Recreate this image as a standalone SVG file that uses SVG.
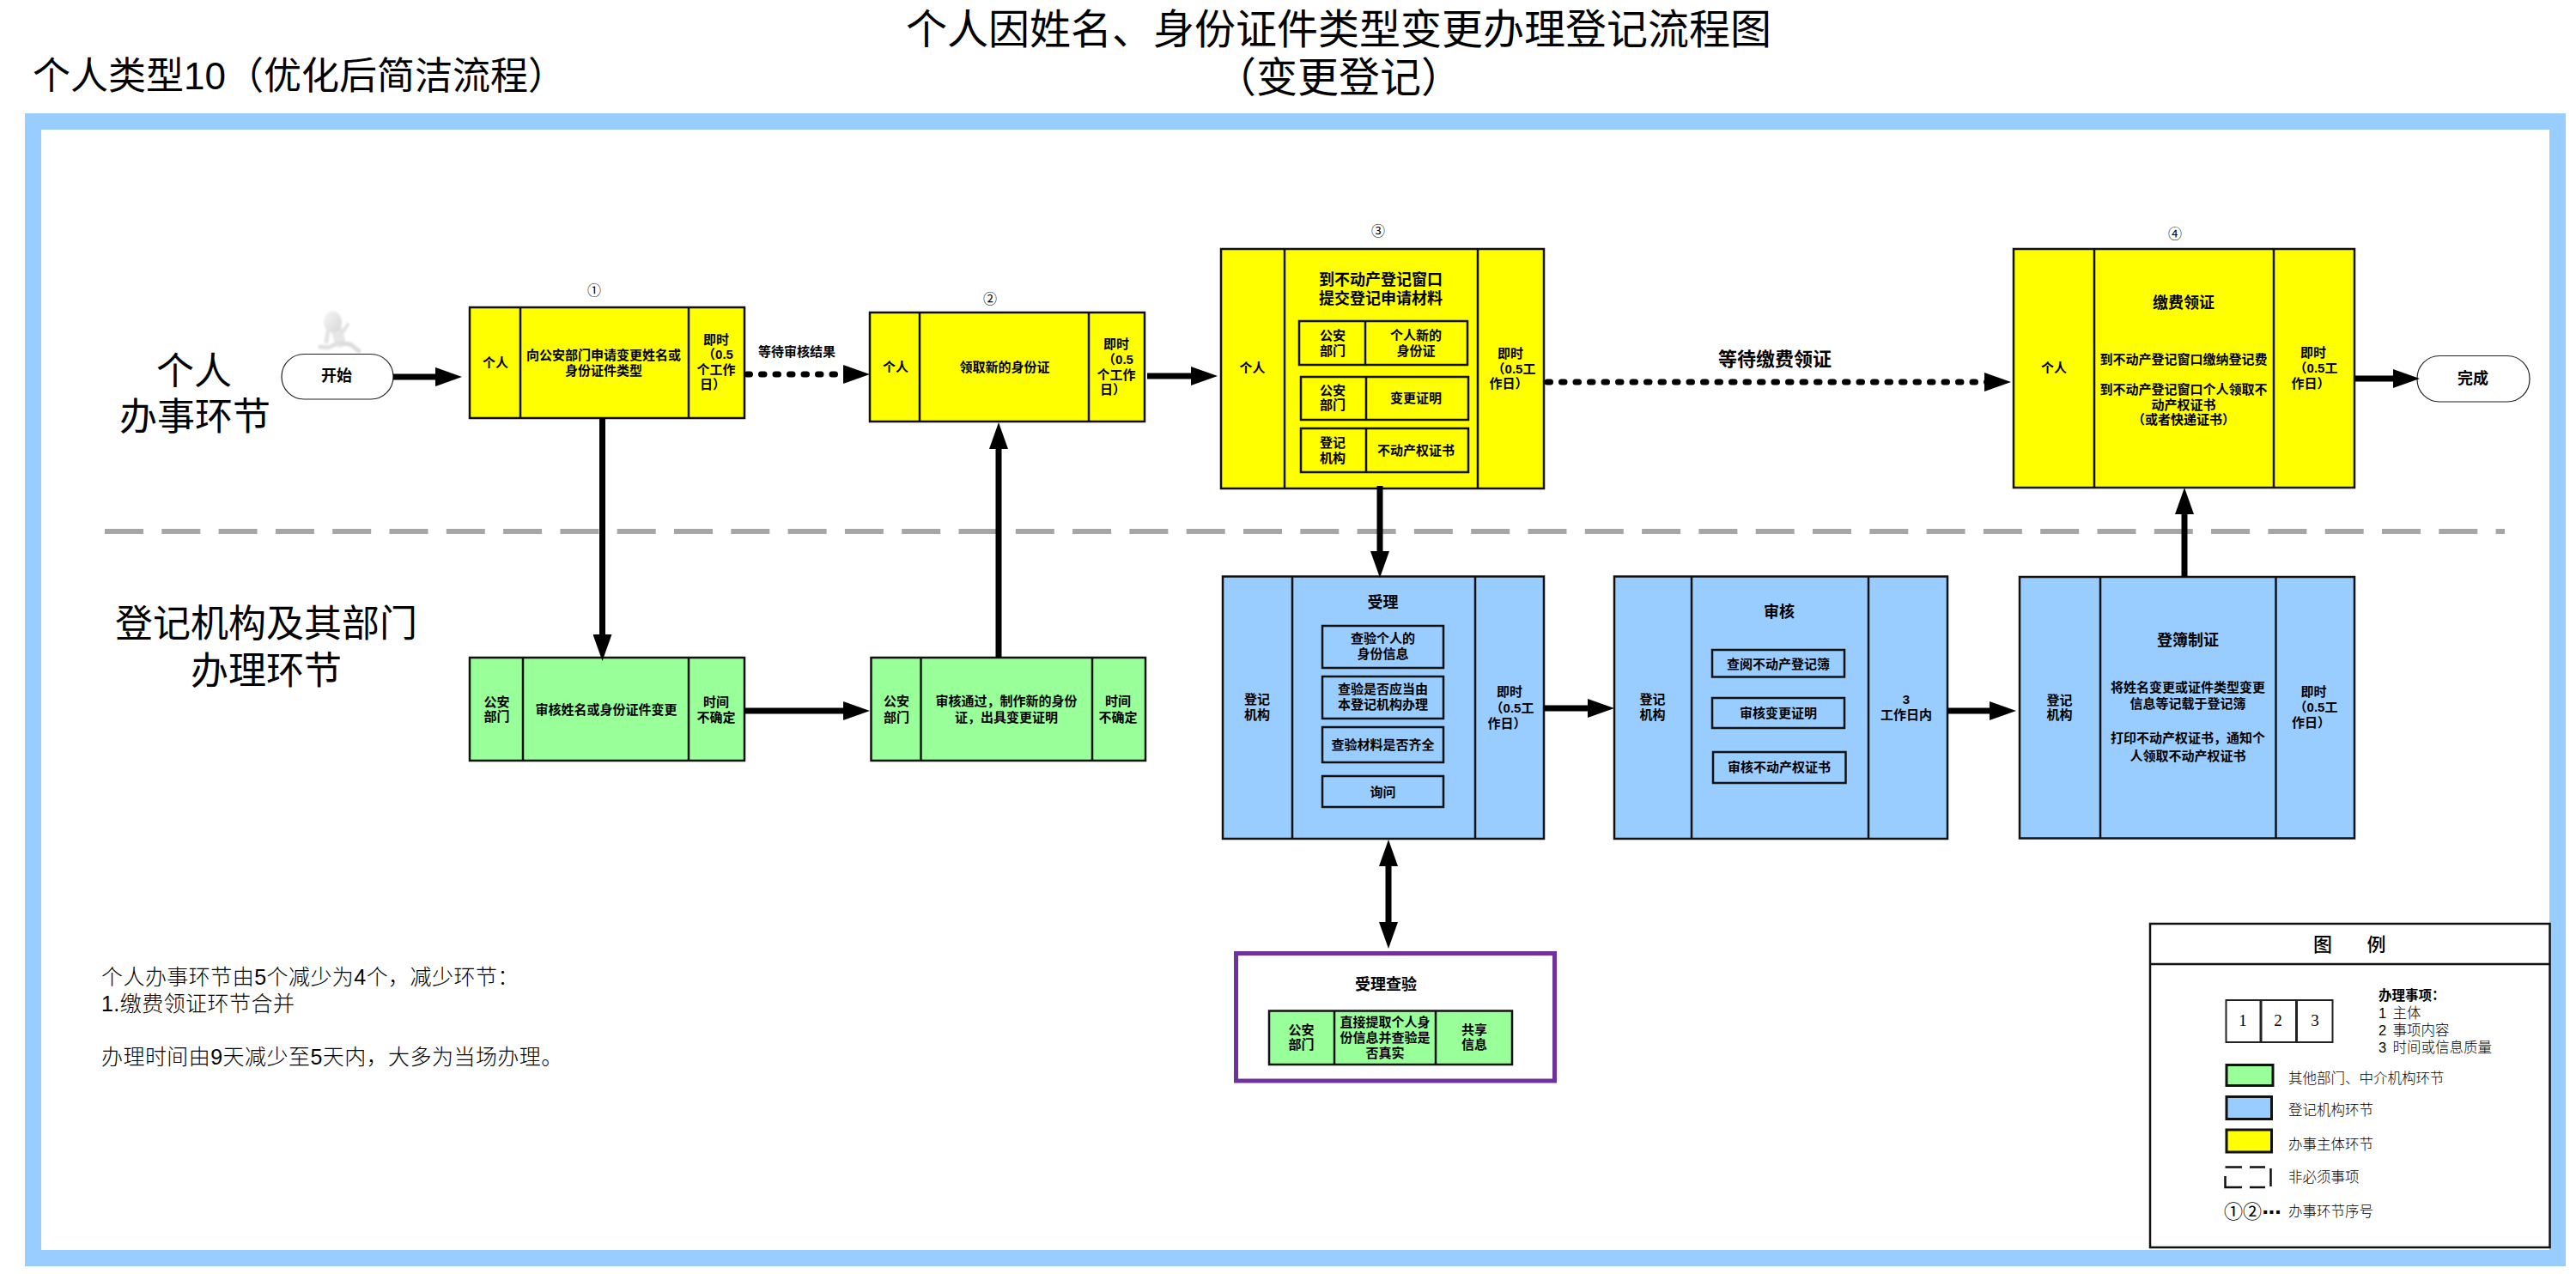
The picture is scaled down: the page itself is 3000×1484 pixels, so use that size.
<svg xmlns="http://www.w3.org/2000/svg" width="3000" height="1484" viewBox="0 0 3000 1484">
<style>
text{font-family:"Liberation Sans","Noto Sans CJK SC",sans-serif;fill:#000}
.c{text-anchor:middle}
.s{font-size:15px;font-weight:700;text-anchor:middle}
.h{font-size:18px;font-weight:700;text-anchor:middle}
.n{font-size:16px;text-anchor:middle;font-family:"Noto Sans CJK SC",sans-serif}
.big{font-size:44px;text-anchor:middle}
.title{font-size:48px;text-anchor:middle}
.note{font-size:25px;font-weight:300;letter-spacing:.45px}
.leg{font-size:16.5px;font-weight:300}
.y{fill:#ffff00}.b{fill:#99ccff}.g{fill:#99ff99}
.box{stroke:#111;stroke-width:2.5}
.in{fill:none;stroke:#111;stroke-width:2.5}
.div{stroke:#111;stroke-width:2.5;fill:none}
.a{fill:none;stroke:#000;stroke-width:7}
.ad{fill:none;stroke:#000;stroke-width:7;stroke-linecap:round;stroke-dasharray:3.5 13}
.serif{font-family:"Liberation Serif",serif;font-size:19px;text-anchor:middle}
</style>
<defs>
<marker id="arrow" markerUnits="userSpaceOnUse" markerWidth="31" markerHeight="22" viewBox="0 0 31 22" refX="16" refY="11" orient="auto-start-reverse"><path d="M0 0L31 11L0 22Z" fill="#000"/></marker>
<linearGradient id="man" x1="0" y1="0" x2="1" y2="1"><stop offset="0" stop-color="#f6f6f6"/><stop offset="1" stop-color="#d6d6d6"/></linearGradient>
<filter id="soft" x="-20%" y="-20%" width="140%" height="140%"><feGaussianBlur stdDeviation="0.8"/></filter>
</defs>
<rect width="3000" height="1484" fill="#fff"/>
<g id="titles">
<text class="title" x="1559" y="51">个人因姓名、身份证件类型变更办理登记流程图</text>
<text class="title" x="1559" y="107">（变更登记）</text>
<text x="38" y="104" font-size="44">个人类型10（优化后简洁流程）</text>
</g>
<rect id="frame" x="38.5" y="141.5" width="2940" height="1324" fill="none" stroke="#99ccff" stroke-width="19"/>
<line id="lane-divider" x1="122" y1="619" x2="2917" y2="619" stroke="#a6a6a6" stroke-width="6" stroke-dasharray="45 21.3"/>
<g id="lane-labels">
<text class="big" x="226" y="448">个人</text>
<text class="big" x="227" y="501">办事环节</text>
<text class="big" x="310" y="742">登记机构及其部门</text>
<text class="big" x="310" y="797">办理环节</text>
</g>
<g id="notes">
<text class="note" x="118" y="1147">个人办事环节由5个减少为4个，减少环节：</text>
<text class="note" x="118" y="1178">1.缴费领证环节合并</text>
<text class="note" x="118" y="1240">办理时间由9天减少至5天内，大多为当场办理。</text>
</g>
<g id="runner" fill="none" stroke-linecap="round" stroke-linejoin="round" filter="url(#soft)">
<path d="M392 384L396 398" stroke="#e6e6e6" stroke-width="13"/>
<path d="M394 384L400 386L405 378" stroke="#e2e2e2" stroke-width="4"/>
<path d="M382 386L380 398" stroke="#e4e4e4" stroke-width="5"/>
<path d="M393 400L382 405L373 404" stroke="#e0e0e0" stroke-width="5"/>
<path d="M398 400L408 401L418 409" stroke="#dcdcdc" stroke-width="5"/>
<ellipse cx="387.5" cy="375" rx="10.5" ry="12.5" fill="url(#man)"/>
</g>
<g id="start">
<rect x="328" y="412.5" width="130" height="52.5" rx="26" ry="26" fill="#fff" stroke="#222" stroke-width="1.2"/>
<text class="h" x="392" y="444">开始</text>
</g>
<g id="step1">
<rect class="box y" x="547" y="358" width="320" height="129"/>
<path class="div" d="M606 358V487M802 358V487"/>
<text class="s" x="577" y="427.5">个人</text>
<text class="s" x="703" y="419">向公安部门申请变更姓名或</text>
<text class="s" x="703" y="436.5">身份证件类型</text>
<text class="s" x="834" y="400.5">即时</text>
<text class="s" x="836" y="418">（0.5</text>
<text class="s" x="834" y="436">个工作</text>
<text class="s" x="830" y="453">日）</text>
<text class="n" x="692" y="344">①</text>
</g>
<g id="step2">
<rect class="box y" x="1013" y="364" width="320" height="127"/>
<path class="div" d="M1071 364V491M1268 364V491"/>
<text class="s" x="1043" y="433">个人</text>
<text class="s" x="1170" y="432.5">领取新的身份证</text>
<text class="s" x="1300" y="406">即时</text>
<text class="s" x="1302" y="423.5">（0.5</text>
<text class="s" x="1300" y="441.5">个工作</text>
<text class="s" x="1296" y="459">日）</text>
<text class="n" x="1153" y="354">②</text>
</g>
<g id="step3">
<rect class="box y" x="1422" y="290" width="376" height="279"/>
<path class="div" d="M1496 290V569M1721 290V569"/>
<text class="s" x="1458.5" y="434">个人</text>
<text class="h" x="1608" y="331.5">到不动产登记窗口</text>
<text class="h" x="1608" y="353.5">提交登记申请材料</text>
<rect class="in" x="1513" y="374" width="196" height="51"/><path class="div" d="M1590 374V425"/>
<text class="s" x="1552" y="396">公安</text><text class="s" x="1552" y="414">部门</text>
<text class="s" x="1649" y="396">个人新的</text><text class="s" x="1649" y="414">身份证</text>
<rect class="in" x="1515" y="439" width="195" height="50"/><path class="div" d="M1591 439V489"/>
<text class="s" x="1552" y="459.5">公安</text><text class="s" x="1552" y="477">部门</text>
<text class="s" x="1649" y="468.5">变更证明</text>
<rect class="in" x="1515" y="499" width="195" height="51"/><path class="div" d="M1591 499V550"/>
<text class="s" x="1552" y="521">登记</text><text class="s" x="1552" y="538.5">机构</text>
<text class="s" x="1649" y="530">不动产权证书</text>
<text class="s" x="1759" y="417">即时</text>
<text class="s" x="1763" y="435">（0.5工</text>
<text class="s" x="1757" y="452">作日）</text>
<text class="n" x="1605" y="275">③</text>
</g>
<g id="step4">
<rect class="box y" x="2345" y="290" width="397" height="278"/>
<path class="div" d="M2439 290V568M2648 290V568"/>
<text class="s" x="2392" y="434">个人</text>
<text class="h" x="2543" y="358.5">缴费领证</text>
<text class="s" x="2543" y="423.5">到不动产登记窗口缴纳登记费</text>
<text class="s" x="2543" y="459">到不动产登记窗口个人领取不</text>
<text class="s" x="2543" y="477">动产权证书</text>
<text class="s" x="2543" y="494">（或者快递证书）</text>
<text class="s" x="2694" y="416">即时</text>
<text class="s" x="2697" y="434">（0.5工</text>
<text class="s" x="2691" y="452">作日）</text>
<text class="n" x="2533" y="278">④</text>
</g>
<g id="finish">
<rect x="2815" y="414.5" width="131" height="53.5" rx="26" ry="26" fill="#fff" stroke="#222" stroke-width="1.2"/>
<text class="h" x="2880" y="446.5">完成</text>
</g>
<g id="review-name">
<rect class="box g" x="547" y="766" width="320" height="120"/>
<path class="div" d="M609 766V886M802 766V886"/>
<text class="s" x="578.5" y="823">公安</text><text class="s" x="578.5" y="840">部门</text>
<text class="s" x="706" y="831.5">审核姓名或身份证件变更</text>
<text class="s" x="834" y="823">时间</text><text class="s" x="834" y="840.5">不确定</text>
</g>
<g id="issue-id">
<rect class="box g" x="1014.5" y="766" width="319.5" height="120"/>
<path class="div" d="M1072.5 766V886M1272 766V886"/>
<text class="s" x="1044" y="822">公安</text><text class="s" x="1044" y="840.5">部门</text>
<text class="s" x="1172" y="822">审核通过，制作新的身份</text>
<text class="s" x="1172" y="840.5">证，出具变更证明</text>
<text class="s" x="1302" y="822">时间</text><text class="s" x="1302" y="840.5">不确定</text>
</g>
<g id="accept">
<rect class="box b" x="1424" y="671.5" width="374" height="305.5"/>
<path class="div" d="M1505 671.5V977M1718 671.5V977"/>
<text class="s" x="1464" y="819.5">登记</text><text class="s" x="1464" y="838">机构</text>
<text class="h" x="1610.5" y="707.5">受理</text>
<rect class="in" x="1540" y="729" width="141" height="49"/>
<text class="s" x="1610.5" y="749">查验个人的</text><text class="s" x="1610.5" y="766.5">身份信息</text>
<rect class="in" x="1540" y="788" width="141" height="49"/>
<text class="s" x="1610.5" y="808">查验是否应当由</text><text class="s" x="1610.5" y="826">本登记机构办理</text>
<rect class="in" x="1540" y="847" width="141" height="41"/>
<text class="s" x="1610.5" y="872.5">查验材料是否齐全</text>
<rect class="in" x="1540" y="904" width="141" height="36"/>
<text class="s" x="1610.5" y="927.5">询问</text>
<text class="s" x="1758" y="811">即时</text>
<text class="s" x="1761" y="829.5">（0.5工</text>
<text class="s" x="1755" y="847.5">作日）</text>
</g>
<g id="audit">
<rect class="box b" x="1880" y="671.5" width="388" height="305.5"/>
<path class="div" d="M1970 671.5V977M2176 671.5V977"/>
<text class="s" x="1924.5" y="819.5">登记</text><text class="s" x="1924.5" y="838">机构</text>
<text class="h" x="2072" y="719">审核</text>
<rect class="in" x="1994" y="757" width="154" height="31.5"/>
<text class="s" x="2071" y="778.5">查阅不动产登记簿</text>
<rect class="in" x="1994" y="813" width="154" height="35"/>
<text class="s" x="2071" y="836">审核变更证明</text>
<rect class="in" x="1995" y="876" width="154.5" height="36"/>
<text class="s" x="2072" y="899">审核不动产权证书</text>
<text class="s" x="2220" y="819.5">3</text><text class="s" x="2220" y="838">工作日内</text>
</g>
<g id="register">
<rect class="box b" x="2352" y="672" width="390" height="304.5"/>
<path class="div" d="M2446 672V976.5M2650.5 672V976.5"/>
<text class="s" x="2398.5" y="820.5">登记</text><text class="s" x="2398.5" y="838">机构</text>
<text class="h" x="2548" y="751.5">登簿制证</text>
<text class="s" x="2548" y="806">将姓名变更或证件类型变更</text>
<text class="s" x="2548" y="825">信息等记载于登记簿</text>
<text class="s" x="2548" y="864.5">打印不动产权证书，通知个</text>
<text class="s" x="2548" y="885.5">人领取不动产权证书</text>
<text class="s" x="2694.5" y="810.5">即时</text>
<text class="s" x="2697" y="829">（0.5工</text>
<text class="s" x="2691.5" y="846.5">作日）</text>
</g>
<g id="verify">
<rect x="1439.5" y="1110.5" width="371" height="148.5" fill="#fff" stroke="#7030a0" stroke-width="5"/>
<text class="h" x="1614" y="1152.5">受理查验</text>
<rect class="box g" x="1478" y="1177.5" width="283" height="62.5"/>
<path class="div" d="M1554 1177.5V1240M1672 1177.5V1240"/>
<text class="s" x="1515.5" y="1204.5">公安</text><text class="s" x="1515.5" y="1222">部门</text>
<text class="s" x="1613" y="1195.5">直接提取个人身</text>
<text class="s" x="1613" y="1213.5">份信息并查验是</text>
<text class="s" x="1613" y="1231.5">否真实</text>
<text class="s" x="1717" y="1204.5">共享</text><text class="s" x="1717" y="1222">信息</text>
</g>
<g id="connectors">
<line class="a" x1="458" y1="439" x2="523" y2="439" marker-end="url(#arrow)"/>
<line class="ad" x1="870" y1="436" x2="998" y2="436" marker-end="url(#arrow)"/>
<text class="s" x="928" y="414.5">等待审核结果</text>
<line class="a" x1="1336" y1="438" x2="1403" y2="438" marker-end="url(#arrow)"/>
<line class="ad" x1="1802" y1="445" x2="2327" y2="445" marker-end="url(#arrow)"/>
<text x="2067" y="426" font-size="22" font-weight="700" text-anchor="middle">等待缴费领证</text>
<line class="a" x1="2742" y1="441" x2="2803" y2="441" marker-end="url(#arrow)"/>
<line class="a" x1="701.5" y1="487" x2="701.5" y2="755" marker-end="url(#arrow)"/>
<line class="a" x1="867" y1="828" x2="998" y2="828" marker-end="url(#arrow)"/>
<line class="a" x1="1163" y1="766" x2="1163" y2="507" marker-end="url(#arrow)"/>
<line class="a" x1="1607" y1="566" x2="1607" y2="658" marker-end="url(#arrow)"/>
<line class="a" x1="1798" y1="825" x2="1865" y2="825" marker-end="url(#arrow)"/>
<line class="a" x1="2268" y1="828" x2="2333" y2="828" marker-end="url(#arrow)"/>
<line class="a" x1="2544" y1="672" x2="2544" y2="583" marker-end="url(#arrow)"/>
<line class="a" x1="1617" y1="993" x2="1617" y2="1090" marker-start="url(#arrow)" marker-end="url(#arrow)"/>
</g>
<g id="legend">
<rect x="2504" y="1076" width="465.5" height="377" fill="#fff" stroke="#111" stroke-width="2.5"/>
<line class="div" x1="2504" y1="1123" x2="2969.5" y2="1123"/>
<text x="2705" y="1108" font-size="22" font-weight="500" text-anchor="middle">图</text>
<text x="2767.5" y="1108" font-size="22" font-weight="500" text-anchor="middle">例</text>
<g stroke="#222" stroke-width="2" fill="#fff"><rect x="2592.5" y="1165" width="40" height="49"/><rect x="2633.5" y="1165" width="40.500" height="49"/><rect x="2675" y="1165" width="41.500" height="49"/></g>
<text class="serif" x="2612" y="1195">1</text><text class="serif" x="2653" y="1195">2</text><text class="serif" x="2696" y="1195">3</text>
<text x="2770" y="1165" font-size="15.5" font-weight="700">办理事项：</text>
<text class="leg" x="2770" y="1185.5">1</text><text class="leg" x="2786.5" y="1185.5">主体</text>
<text class="leg" x="2770" y="1205.5">2</text><text class="leg" x="2786.5" y="1205.5">事项内容</text>
<text class="leg" x="2770" y="1226">3</text><text class="leg" x="2786.5" y="1226">时间或信息质量</text>
<rect class="g" x="2593" y="1240.5" width="54" height="24" stroke="#111" stroke-width="3"/>
<text class="leg" x="2665" y="1262">其他部门、中介机构环节</text>
<rect class="b" x="2593" y="1277.5" width="52.500" height="26" stroke="#111" stroke-width="3"/>
<text class="leg" x="2665" y="1299">登记机构环节</text>
<rect class="y" x="2593" y="1316" width="52.500" height="26" stroke="#111" stroke-width="3"/>
<text class="leg" x="2665" y="1339">办事主体环节</text>
<path d="M2591.5 1359.5H2611M2620 1359.5H2638M2644.5 1361V1382M2591.5 1370V1383H2611M2620 1383H2638" fill="none" stroke="#111" stroke-width="2.5"/>
<text class="leg" x="2665" y="1377">非必须事项</text>
<text x="2590" y="1419" font-size="22" style="font-family:'Noto Sans CJK SC',sans-serif">①②<tspan style="font-family:'DejaVu Sans',sans-serif" font-weight="700" letter-spacing="-1">···</tspan></text>
<text class="leg" x="2665" y="1416.5">办事环节序号</text>
</g>
</svg>
